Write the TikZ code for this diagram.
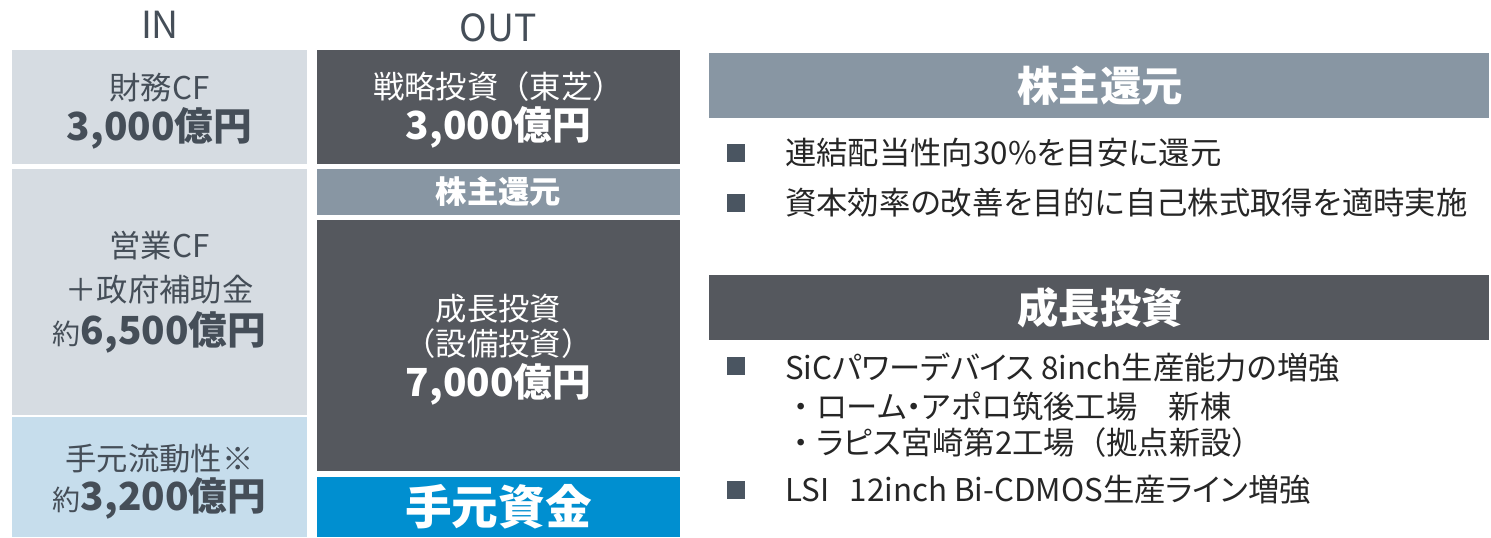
\documentclass[tikz,border=0pt]{standalone}
\usepackage{fontspec}
\setmainfont{Noto Sans CJK JP}
\newfontfamily\jpp{Noto Sans CJK JP}[RawFeature=+palt]
\newcommand\myfs[1]{\fontsize{#1}{#1}\selectfont}
\definecolor{lgray}{HTML}{D6DCE2}
\definecolor{lblue}{HTML}{C6DDEC}
\definecolor{dgray}{HTML}{55585E}
\definecolor{gblue}{HTML}{8896A3}
\definecolor{bblue}{HTML}{008FD0}
\definecolor{txtd}{HTML}{454E58}
\definecolor{txtb}{HTML}{262626}
\definecolor{sq}{HTML}{4A5561}
\begin{document}
\begin{tikzpicture}[x=0.75pt,y=-0.75pt,
  rbox/.style={inner sep=0pt, outer sep=0pt, anchor=north west},
  head/.style={text=txtd, font=\myfs{28}},
  intxt/.style={text=txtd, font=\myfs{23.5}, inner sep=0pt},
  inamt/.style={text=txtd, font=\myfs{29}\bfseries, inner sep=0pt},
  outtxt/.style={text=white, font=\myfs{23.5}, inner sep=0pt},
  outamt/.style={text=white, font=\myfs{29}\bfseries, inner sep=0pt},
  htxt/.style={text=white, font=\myfs{31}\bfseries, inner sep=0pt},
  btxt/.style={text=txtb, font=\jpp\myfs{23.5}, inner sep=0pt, anchor=west},
  bsq/.style={fill=sq, minimum size=13.5pt, inner sep=0pt}]
\useasboundingbox (0,0) rectangle (1491,537);
% column titles
\node[head] (tin) at (160,25) {IN};
\node[head] (tout) at (498,28) {OUT};
% IN boxes
\node[rbox, fill=lgray, minimum width=221.25pt, minimum height=85.5pt] (in1) at (12,50) {};
\node[rbox, fill=lgray, minimum width=221.25pt, minimum height=184.5pt] (in2) at (12,169) {};
\node[rbox, fill=lblue, minimum width=221.25pt, minimum height=90pt] (in3) at (12,417) {};
\node[intxt] (in1a) at (159.5,88) {財務CF};
\node[inamt] (in1b) at (159.5,128) {3,000億円};
\node[intxt] (in2a) at (159.5,246) {営業CF};
\node[intxt] (in2b) at (159.5,290) {＋政府補助金};
\node[inamt] (in2c) at (159.5,332) {{\mdseries\myfs{21}約}6,500億円};
\node[intxt] (in3a) at (159.5,459) {手元流動性※};
\node[inamt] (in3b) at (159.5,498) {{\mdseries\myfs{21}約}3,200億円};
% OUT boxes
\node[rbox, fill=dgray, minimum width=272.25pt, minimum height=85.5pt] (o1) at (317,50) {};
\node[rbox, fill=gblue, minimum width=272.25pt, minimum height=34.5pt] (o2) at (317,169) {};
\node[rbox, fill=dgray, minimum width=272.25pt, minimum height=188.25pt] (o3) at (317,220) {};
\node[rbox, fill=bblue, minimum width=272.25pt, minimum height=45pt] (o4) at (317,477) {};
\node[outtxt] (o1a) at (498.5,87) {戦略投資（東芝）};
\node[outamt] (o1b) at (498.5,127) {3,000億円};
\node[outtxt, font=\myfs{23.5}\bfseries] (o2a) at (498.5,192) {株主還元};
\node[outtxt] (o3a) at (498.5,309) {成長投資};
\node[outtxt] (o3b) at (498.5,344) {（設備投資）};
\node[outamt] (o3c) at (498.5,384) {7,000億円};
\node[outtxt, font=\myfs{35}\bfseries] (o4a) at (498.5,507) {手元資金};
% right panel
\node[rbox, fill=gblue, minimum width=585pt, minimum height=48.75pt] (h1) at (709,53) {};
\node[htxt] (h1t) at (1100,86) {株主還元};
\node[bsq] (s1) at (736,153) {};
\node[btxt] (b1) at (785,153) {連結配当性向30\%を目安に還元};
\node[bsq] (s2) at (736,203) {};
\node[btxt] (b2) at (785,203) {資本効率の改善を目的に自己株式取得を適時実施};
\node[rbox, fill=dgray, minimum width=585pt, minimum height=48.75pt] (h2) at (709,275) {};
\node[htxt] (h2t) at (1100,308) {成長投資};
\node[bsq] (s3) at (736,366) {};
\node[btxt] (b3) at (785,368) {SiCパワーデバイス 8inch生産能力の増強};
\node[btxt] (b4) at (785,407) {{\rmfamily ・}ローム・アポロ筑後工場　新棟};
\node[btxt] (b5) at (785,443) {{\rmfamily ・}ラピス宮崎第2工場{\rmfamily （}拠点新設{\rmfamily ）}};
\node[bsq] (s4) at (736,490) {};
\node[btxt] (b6) at (785,490) {LSI\hspace{0.65em}12inch Bi-CDMOS生産ライン増強};
\end{tikzpicture}
\end{document}
